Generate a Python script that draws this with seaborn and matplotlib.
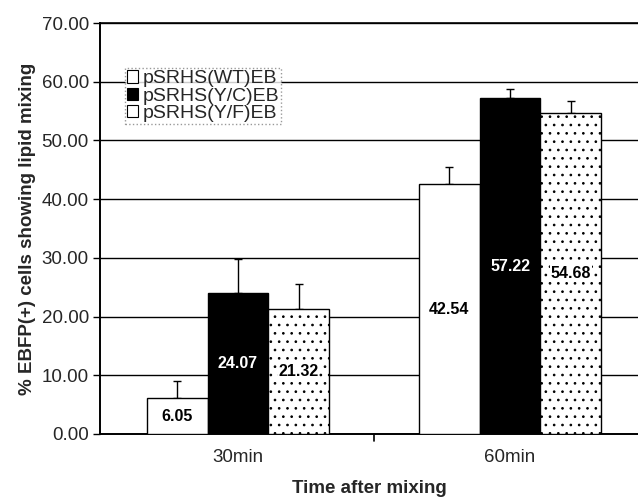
import matplotlib
matplotlib.use("Agg")
import matplotlib.pyplot as plt
import seaborn as sns
import pandas as pd
from matplotlib.patches import Patch

sns.set_theme(style="white")
plt.rcParams['font.family'] = ['Liberation Sans', 'DejaVu Sans']
plt.rcParams['hatch.linewidth'] = 0.7

times = ["30min", "60min"]
constructs = ["pSRHS(WT)EB", "pSRHS(Y/C)EB", "pSRHS(Y/F)EB"]
wt = [6.05, 42.54]
yc = [24.07, 57.22]
yf = [21.32, 54.68]
wt_err = [2.9, 3.0]
yc_err = [5.8, 1.5]
yf_err = [4.3, 2.0]

rows = []
for name, vals, errs in zip(constructs, [wt, yc, yf], [wt_err, yc_err, yf_err]):
    for t, v, e in zip(times, vals, errs):
        rows.append({"time": t, "construct": name, "value": v, "err": e})
df = pd.DataFrame(rows)

fig = plt.figure(figsize=(6.38, 4.97), dpi=100)
ax = fig.add_axes([100/638, 1 - 434/497, 538/638, (434-23)/497])

sns.barplot(data=df, x="time", y="value", hue="construct", hue_order=constructs,
            palette=["white", "black", "white"], edgecolor="black", linewidth=1.0,
            width=0.67, gap=0, errorbar=None, ax=ax, legend=False, zorder=3)

hatches = [None, None, ".."]
textcol = ["black", "white", "black"]
for ci, (cont, name) in enumerate(zip(ax.containers, constructs)):
    sub = df[df.construct == name].set_index("time").loc[times]
    for bar, (v, e) in zip(cont.patches, zip(sub.value, sub.err)):
        if hatches[ci]:
            bar.set_hatch(hatches[ci])
        xc = bar.get_x() + bar.get_width() / 2
        ax.errorbar([xc], [v], yerr=[[0], [e]], fmt="none", ecolor="black",
                    elinewidth=1.0, capsize=3, capthick=1.0, zorder=2)
        ax.text(xc, v / 2, f"{v:.2f}", ha="center", va="center",
                fontsize=11.5, fontweight="bold", color=textcol[ci], zorder=5,
                bbox=dict(facecolor="white", edgecolor="none", pad=0.3) if ci == 2 else None)

ax.set_ylim(0, 70)
ax.set_xlim(-0.507, 1.47)
yt = [0, 10, 20, 30, 40, 50, 60, 70]
ax.set_yticks(yt)
ax.set_yticklabels([f"{v:.2f}" for v in yt], fontsize=13.5)
for v in yt[1:]:
    ax.axhline(v, color="black", lw=1.0, zorder=1)
ax.set_xticks([0, 1])
ax.set_xticklabels(times, fontsize=13.5)
ax.tick_params(axis="x", length=0, pad=11)
ax.tick_params(axis="y", direction="out", length=5, width=1, color="black", left=True, pad=3)
for xb in [0.5]:
    ax.plot([xb, xb], [0, -1.2], color="black", lw=1.2, clip_on=False, zorder=4)

for s in ["left", "bottom"]:
    ax.spines[s].set_color("black")
    ax.spines[s].set_linewidth(1.4)
ax.spines["top"].set_color("black")
ax.spines["top"].set_linewidth(1.2)
ax.spines["right"].set_visible(False)

ax.set_ylabel("% EBFP(+) cells showing lipid mixing", fontsize=13.5, fontweight="bold", labelpad=4)
ax.set_xlabel("Time after mixing", fontsize=13.5, fontweight="bold", labelpad=10)

handles = [Patch(facecolor="white", edgecolor="black", lw=0.8),
           Patch(facecolor="black", edgecolor="black", lw=0.8),
           Patch(facecolor="white", edgecolor="black", lw=0.8, hatch=".")]
leg = ax.legend(handles, constructs, loc="upper left", bbox_to_anchor=(0.046, 0.89),
                fontsize=14, frameon=True, fancybox=False, handlelength=0.6,
                handleheight=0.6, handletextpad=0.2, borderpad=0.1, labelspacing=0.02,
                borderaxespad=0)
leg.get_frame().set_edgecolor("gray")
leg.get_frame().set_linestyle(":")
leg.get_frame().set_linewidth(1.0)
leg.set_zorder(6)

fig.savefig("out.png", dpi=100)
